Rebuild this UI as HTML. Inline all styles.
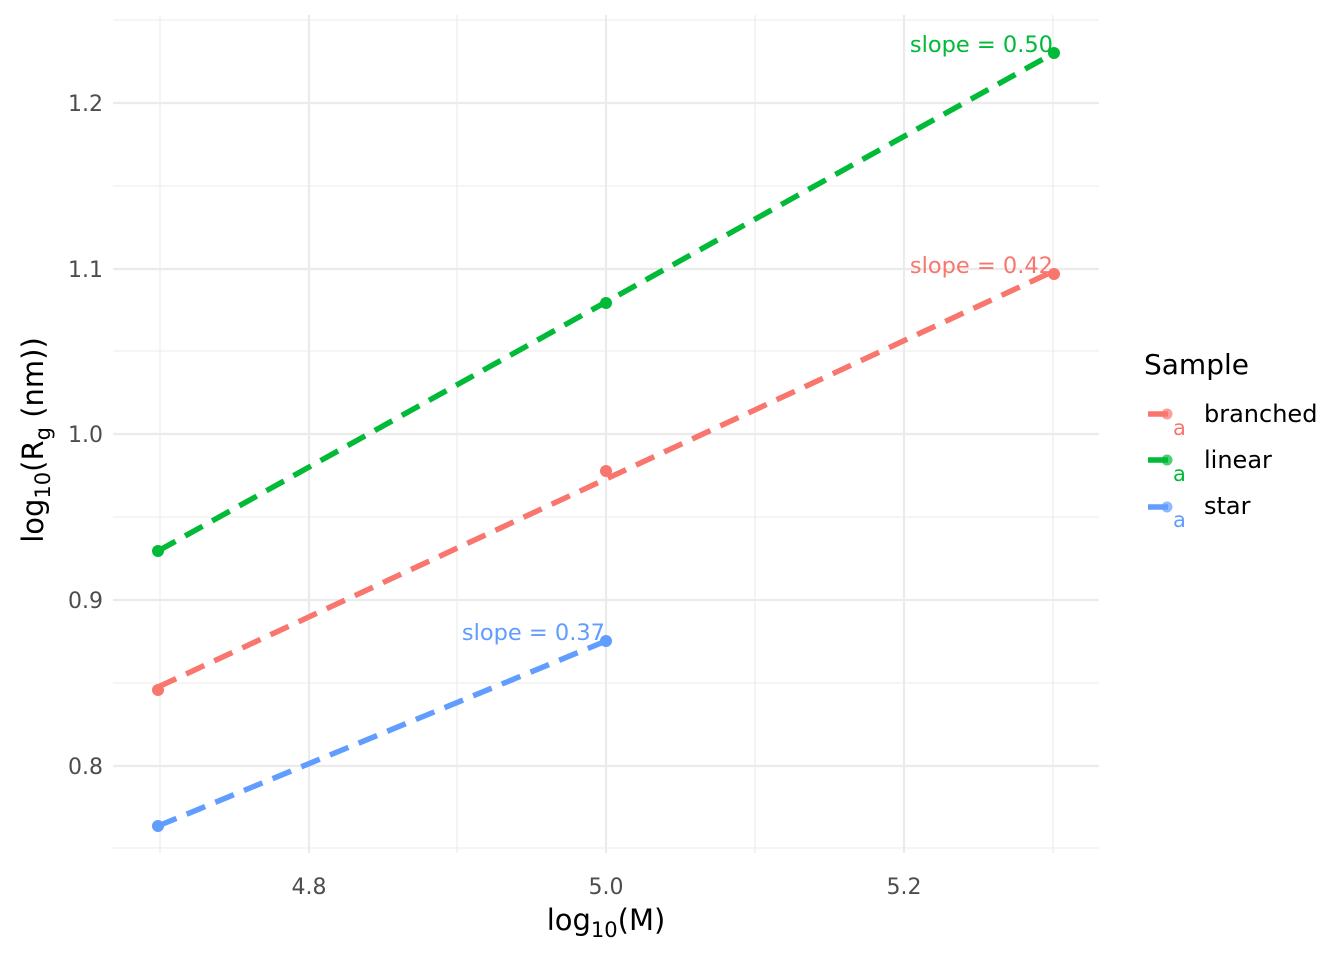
<!DOCTYPE html>
<html><head><meta charset="utf-8"><style>body{margin:0;background:#fff}svg{display:block}</style></head><body>
<svg width="1344" height="960" xmlns="http://www.w3.org/2000/svg" font-family="DejaVu Sans, Liberation Sans, sans-serif">
<g stroke="#ebebeb" stroke-width="1.1">
<line x1="113" x2="1099" y1="20" y2="20"/><line x1="113" x2="1099" y1="186" y2="186"/><line x1="113" x2="1099" y1="351" y2="351"/><line x1="113" x2="1099" y1="517" y2="517"/><line x1="113" x2="1099" y1="683" y2="683"/><line x1="113" x2="1099" y1="848" y2="848"/>
<line y1="15" y2="853" x1="160" x2="160"/><line y1="15" y2="853" x1="457" x2="457"/><line y1="15" y2="853" x1="755" x2="755"/><line y1="15" y2="853" x1="1053" x2="1053"/>
</g>
<g stroke="#ebebeb" stroke-width="2.2">
<line x1="113" x2="1099" y1="103" y2="103"/><line x1="113" x2="1099" y1="269" y2="269"/><line x1="113" x2="1099" y1="434" y2="434"/><line x1="113" x2="1099" y1="600" y2="600"/><line x1="113" x2="1099" y1="766" y2="766"/>
<line y1="15" y2="853" x1="309" x2="309"/><line y1="15" y2="853" x1="606" x2="606"/><line y1="15" y2="853" x1="904" x2="904"/>
</g>
<g stroke-width="5.5" stroke-dasharray="20,11" fill="none">
<line x1="158" y1="551" x2="1054" y2="53" stroke="#00ba38"/>
<line x1="158" y1="687" x2="1054" y2="271" stroke="#f8766d"/>
<line x1="158" y1="826" x2="606" y2="641" stroke="#619cff"/>
</g>
<g>
<circle cx="158" cy="551" r="6" fill="#00ba38"/><circle cx="606" cy="303" r="6" fill="#00ba38"/><circle cx="1054" cy="53" r="6" fill="#00ba38"/>
<circle cx="158" cy="690" r="6" fill="#f8766d"/><circle cx="606" cy="471" r="6" fill="#f8766d"/><circle cx="1054" cy="274" r="6" fill="#f8766d"/>
<circle cx="158" cy="826" r="6" fill="#619cff"/><circle cx="606" cy="641" r="6" fill="#619cff"/>
</g>
<g font-size="22.5px" text-anchor="end">
<text x="1053" y="52" fill="#00ba38">slope = 0.50</text>
<text x="1053" y="273" fill="#f8766d">slope = 0.42</text>
<text x="605" y="640" fill="#619cff">slope = 0.37</text>
</g>
<g font-size="22px" fill="#4d4d4d" text-anchor="end">
<text x="103" y="111">1.2</text><text x="103" y="277">1.1</text><text x="103" y="442">1.0</text><text x="103" y="608">0.9</text><text x="103" y="774">0.8</text>
</g>
<g font-size="22px" fill="#4d4d4d" text-anchor="middle">
<text x="309" y="894">4.8</text><text x="606" y="894">5.0</text><text x="904" y="894">5.2</text>
</g>
<text x="606" y="930" font-size="29px" text-anchor="middle">log<tspan font-size="21px" dy="7">10</tspan><tspan dy="-7">(M)</tspan></text>
<text transform="translate(43,440) rotate(-90)" font-size="29px" text-anchor="middle">log<tspan font-size="21px" dy="7">10</tspan><tspan dy="-7">(R</tspan><tspan font-size="21px" dy="7">g</tspan><tspan dy="-7"> (nm))</tspan></text>
<text x="1144" y="374" font-size="28px">Sample</text>
<g stroke-width="5.5">
<line x1="1148" x2="1168" y1="414" y2="414" stroke="#f8766d"/><circle cx="1167" cy="414" r="5.5" fill="#f8766d" opacity="0.7"/>
<line x1="1148" x2="1168" y1="460" y2="460" stroke="#00ba38"/><circle cx="1167" cy="460" r="5.5" fill="#00ba38" opacity="0.7"/>
<line x1="1148" x2="1168" y1="507" y2="507" stroke="#619cff"/><circle cx="1167" cy="507" r="5.5" fill="#619cff" opacity="0.7"/>
</g>
<g font-size="21px">
<text x="1173" y="435" fill="#f8766d">a</text><text x="1173" y="481" fill="#00ba38">a</text><text x="1173" y="527" fill="#619cff">a</text>
</g>
<g font-size="24px">
<text x="1204" y="422">branched</text><text x="1204" y="468">linear</text><text x="1204" y="514">star</text>
</g>
</svg>
</body></html>
